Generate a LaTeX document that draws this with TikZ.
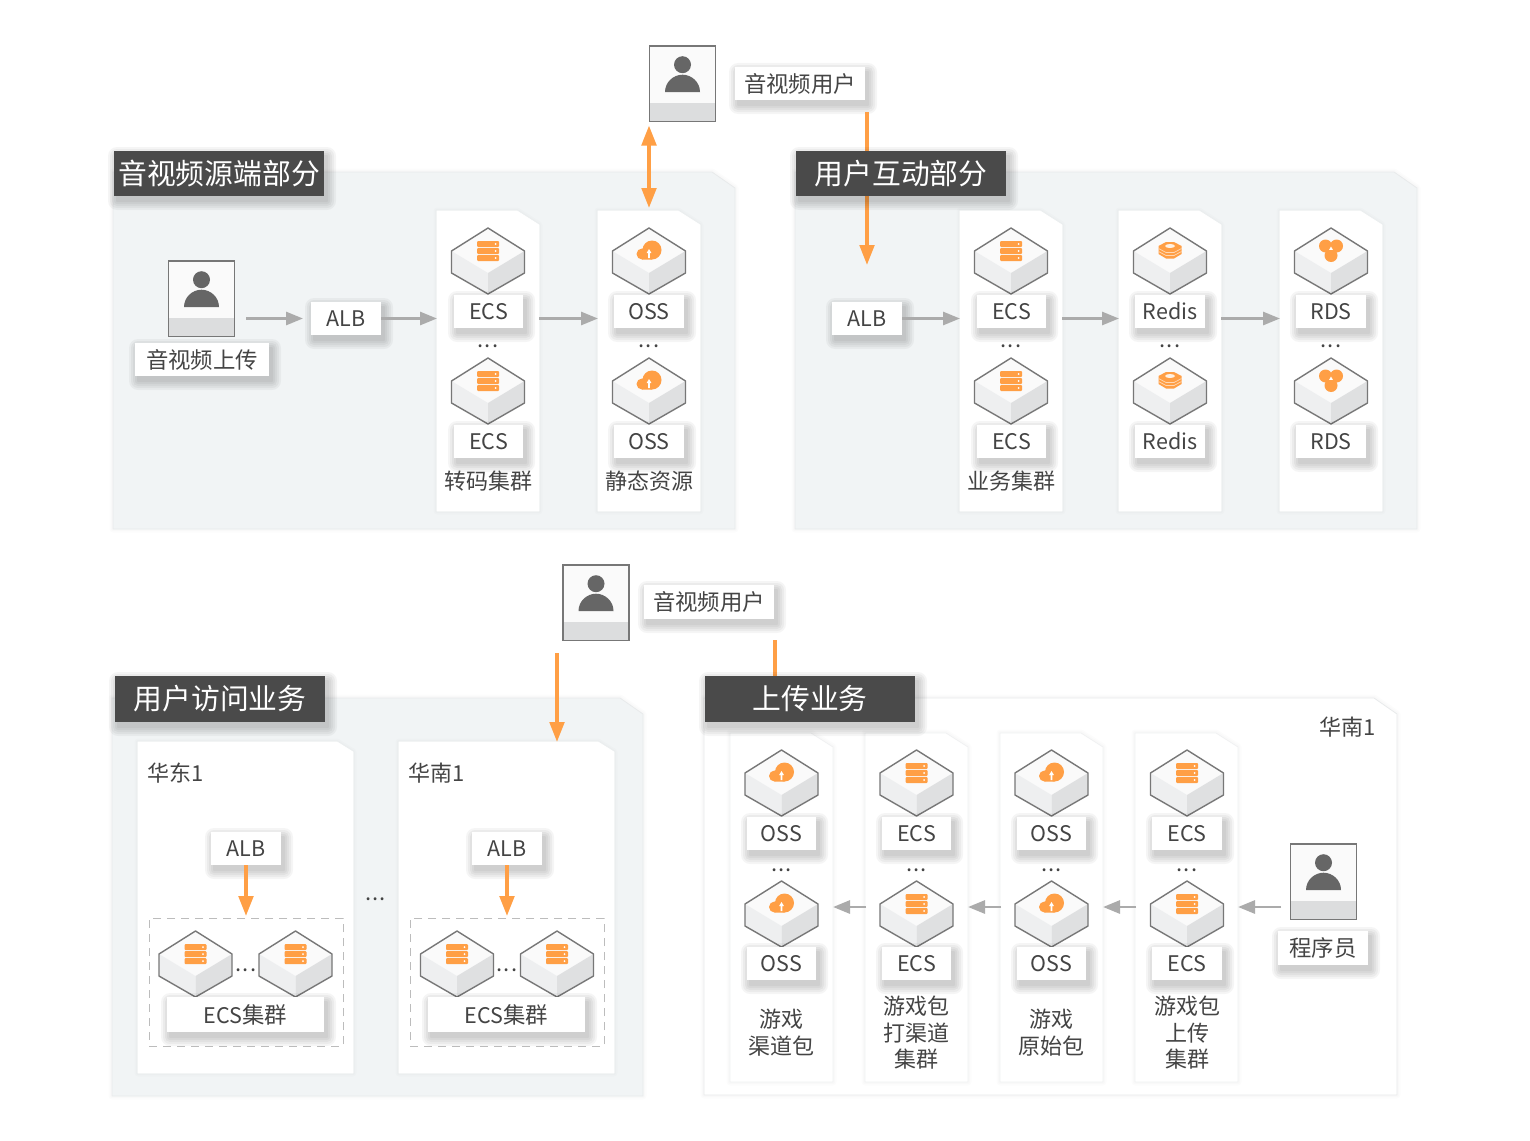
\documentclass[tikz,border=0pt]{standalone}
\usepackage{fontspec}
\setmainfont{Noto Sans CJK SC}
\usetikzlibrary{arrows.meta,calc}
\definecolor{txt}{HTML}{444444}
\definecolor{org}{HTML}{FF9F45}
\definecolor{gry}{HTML}{ABABAB}
\definecolor{pan}{HTML}{F1F4F5}
\definecolor{pedge}{HTML}{E8EAEB}
\definecolor{cedge}{HTML}{F0F1F2}
\definecolor{dark}{HTML}{4A4A4A}
\definecolor{edge}{HTML}{777777}
\definecolor{persn}{HTML}{666666}
\definecolor{band}{HTML}{DCDDDE}
\definecolor{faceL}{HTML}{EEEFF0}
\definecolor{faceR}{HTML}{DFE0E1}
\tikzset{
  x=1pt,y=-1pt,
  ga/.style={draw=gry,line width=2.8pt,-{Triangle[length=17pt,width=13pt]}},
  oa/.style={draw=org,line width=3.6pt,-{Triangle[length=20pt,width=14.5pt]}},
  oab/.style={draw=org,line width=3.6pt,{Triangle[length=20pt,width=14.5pt]}-{Triangle[length=20pt,width=14.5pt]}},
  ol/.style={draw=org,line width=3.6pt},
  boxn/.style={inner sep=0pt,outer sep=0pt},
  lab/.style={font=\fontsize{22}{26.5}\selectfont,text=txt,align=center,inner sep=0pt},
  ttl/.style={boxn,fill=dark,text=white,font=\fontsize{28.8}{30}\selectfont},
  lb/.style={boxn,fill=white,text=txt,font=\fontsize{21.5}{24}\selectfont},
}
\newcommand\zh{\fontsize{22.4}{24}\selectfont}
\newcommand\softshadow[6]{%
  \foreach \s in {9,7,5,3,1}{%
    \fill[black,opacity=.04,rounded corners=\s pt]
      ({#1+#5-\s},{#2+#6-\s}) rectangle ({#3+#5+\s},{#4+#6+\s});
  }}
\newcommand\lbl[6]{%
  \softshadow{#2}{#3}{#4}{#5}{3}{5}%
  \node[lb,minimum width={(#4-#2)*1pt},minimum height={(#5-#3)*1pt}] (#1) at ({(#2+#4)/2},{(#3+#5)/2}) {#6};}
\newcommand\ttlbox[6]{%
  \softshadow{#2}{#3}{#4}{#5}{3}{5}%
  \node[ttl,minimum width={(#4-#2)*1pt},minimum height={(#5-#3)*1pt}] (#1) at ({(#2+#4)/2},{(#3+#5)/2}) {\raisebox{1pt}{#6}};}
% name x1 y1 x2 y2 cutx cuty fill edge-colour
\newcommand\panelbox[9]{%
  \foreach \w in {7,4}{%
    \draw[black,opacity=.012,line width=\w pt,line join=round]
      (#2,#3) -- ({#4-#6},#3) -- (#4,{#3+#7}) -- (#4,#5) -- (#2,#5) -- cycle;}
  \filldraw[fill=#8,draw=#9,line width=.8pt,line join=round] (#2,#3) -- ({#4-#6},#3) -- (#4,{#3+#7}) -- (#4,#5) -- (#2,#5) -- cycle;
  \node[boxn,minimum width={(#4-#2)*1pt},minimum height={(#5-#3)*1pt}] (#1) at ({(#2+#4)/2},{(#3+#5)/2}) {};}
\newcommand\cubebase{%
  \fill[white!98!black] (0,0) -- (36.5,23) -- (0,45) -- (-36.5,23) -- cycle;
  \fill[faceL] (-36.5,23) -- (0,45) -- (0,66) -- (-36.5,45) -- cycle;
  \fill[faceR] (36.5,23) -- (0,45) -- (0,66) -- (36.5,45) -- cycle;
  \draw[edge,line width=1.4pt,line join=round] (0,0) -- (36.5,23) -- (36.5,45) -- (0,66) -- (-36.5,45) -- (-36.5,23) -- cycle;
}
\newcommand\iconecs{%
  \foreach \yy in {13,20,27}{%
    \fill[org,rounded corners=1pt] (-11,\yy) rectangle (11,{\yy+6});
    \fill[white] (7.5,{\yy+3}) circle (1pt);}}
\newcommand\iconoss{%
  \fill[org] (3,22) circle (9.5);
  \fill[org] (-7,26) circle (5.5);
  \fill[org] (-7,21) -- (3,15) -- (3,31.5) -- (-7,31.5) -- cycle;
  \fill[white] (0,21) -- (2.4,25) -- (0.9,25) -- (0.9,30) -- (-0.9,30) -- (-0.9,25) -- (-2.4,25) -- cycle;}
\newcommand\iconredis{%
  \fill[org] (-4,14) -- (4,14) -- (11.5,18) -- (11.5,26) -- (4,30.5) -- (-4,30.5) -- (-11.5,26) -- (-11.5,18) -- cycle;
  \draw[white!60!org,line width=.7pt] (-11.5,20.5) -- (-4,24.5) -- (4,24.5) -- (11.5,20.5);
  \draw[white!60!org,line width=.7pt] (-11.5,23.5) -- (-4,27.5) -- (4,27.5) -- (11.5,23.5);
  \fill[white!85!org] (0,18) ellipse (5 and 2);}
\newcommand\iconrds{%
  \fill[org] (-5.5,18) circle (6.5);
  \fill[org] (5.5,18) circle (6.5);
  \fill[org] (0,27.5) circle (6.5);
  \fill[org] (0,21) circle (5.5);
  \fill[white] (0,18.5) -- (1.9,21.8) -- (-1.9,21.8) -- cycle;}
\newcommand\cube[4]{%
  \begin{scope}[shift={(#2,#3)}]\cubebase #4\end{scope}
  \coordinate (#1) at (#2,{#3+33});}
\newcommand\usericon[3]{%
  \node[boxn,minimum width=66pt,minimum height=75.5pt] (#1) at ({#2+33},{#3+37.75}) {};
  \begin{scope}[shift={(#2,#3)}]
    \fill[white!98!black] (0,0) rectangle (66,75.5);
    \fill[band] (0,56.5) rectangle (66,75.5);
    \fill[persn] (33,18.7) circle (8.5);
    \fill[persn] (15.5,46) .. controls (15.5,36) and (24,28.7) .. (33,28.7) .. controls (42,28.7) and (50.5,36) .. (50.5,46) -- cycle;
    \draw[edge,line width=1.6pt] (0,0) rectangle (66,75.5);
  \end{scope}}
\newcommand\dotsn[3]{%
  \node[lab,anchor=base,font=\fontsize{22}{22}\selectfont] (#1) at (#2,#3) {.\kern1.2pt.\kern1.2pt.};}
\begin{document}
\begin{tikzpicture}
\useasboundingbox (0,0) rectangle (1530,1140);
\fill[white] (0,0) rectangle (1530,1140);

% large panels
\panelbox{pA}{113}{172}{735}{529}{23}{16}{pan}{pedge}
\panelbox{pB}{795}{172}{1417}{529}{23}{16}{pan}{pedge}
\panelbox{pC}{112}{698}{643}{1096}{23}{16}{pan}{pedge}
\panelbox{pD}{704}{698}{1397}{1095}{23}{16}{white}{pedge}

% columns
\panelbox{c1}{437}{211}{539}{511}{22}{14}{white}{white}
\panelbox{c2}{598}{211}{700}{511}{22}{14}{white}{white}
\panelbox{c3}{960}{211}{1062}{511}{22}{14}{white}{white}
\panelbox{c4}{1119}{211}{1221}{511}{22}{14}{white}{white}
\panelbox{c5}{1280}{211}{1382}{511}{22}{14}{white}{white}
\panelbox{s1}{138}{742}{353}{1073}{16}{10}{white}{white}
\panelbox{s2}{399}{742}{614}{1073}{16}{10}{white}{white}
\panelbox{d1}{730}{733}{833}{1082}{22}{14}{white}{cedge}
\panelbox{d2}{865}{733}{968}{1082}{22}{14}{white}{cedge}
\panelbox{d3}{1000}{733}{1103}{1082}{22}{14}{white}{cedge}
\panelbox{d4}{1135}{733}{1238}{1082}{22}{14}{white}{cedge}

% users
\usericon{uTop}{649.5}{46}
\usericon{uSrc}{168.5}{261}
\usericon{uAcc}{563}{565}
\usericon{uDev}{1290.5}{844}

% cubes
\cube{e1a}{488}{228}{\iconecs}
\cube{e1b}{488}{358}{\iconecs}
\cube{o1a}{649}{228}{\iconoss}
\cube{o1b}{649}{358}{\iconoss}
\cube{e2a}{1011}{228}{\iconecs}
\cube{e2b}{1011}{358}{\iconecs}
\cube{r1a}{1170}{228}{\iconredis}
\cube{r1b}{1170}{358}{\iconredis}
\cube{d1a}{1331}{228}{\iconrds}
\cube{d1b}{1331}{358}{\iconrds}
\cube{ua1}{195.5}{931}{\iconecs}
\cube{ua2}{295.5}{931}{\iconecs}
\cube{ub1}{457}{931}{\iconecs}
\cube{ub2}{557}{931}{\iconecs}
\cube{v1a}{781.5}{750}{\iconoss}
\cube{v1b}{781.5}{881}{\iconoss}
\cube{v2a}{916.5}{750}{\iconecs}
\cube{v2b}{916.5}{881}{\iconecs}
\cube{v3a}{1051.5}{750}{\iconoss}
\cube{v3b}{1051.5}{881}{\iconoss}
\cube{v4a}{1187}{750}{\iconecs}
\cube{v4b}{1187}{881}{\iconecs}

% dashed cluster boxes
\node[boxn,draw=gry!80,line width=1pt,dash pattern=on 8pt off 6pt,minimum width=194pt,minimum height=128pt] (dA) at (246,982) {};
\node[boxn,draw=gry!80,line width=1pt,dash pattern=on 8pt off 6pt,minimum width=194pt,minimum height=128pt] (dB) at (507,982) {};

% labels
\lbl{lTop}{735}{67}{865}{100}{\zh 音视频用户}
\lbl{lSrc}{135}{343}{269}{376}{\zh 音视频上传}
\lbl{alb1}{311}{302}{381}{335}{ALB}
\lbl{t1a}{454}{295}{523}{328}{ECS}
\lbl{t1b}{454}{425}{523}{458}{ECS}
\lbl{t2a}{614}{295}{684}{328}{OSS}
\lbl{t2b}{614}{425}{684}{458}{OSS}
\lbl{alb2}{832}{302}{902}{335}{ALB}
\lbl{t3a}{977}{295}{1046}{328}{ECS}
\lbl{t3b}{977}{425}{1046}{458}{ECS}
\lbl{t4a}{1135}{295}{1205}{328}{Redis}
\lbl{t4b}{1135}{425}{1205}{458}{Redis}
\lbl{t5a}{1296}{295}{1366}{328}{RDS}
\lbl{t5b}{1296}{425}{1366}{458}{RDS}
\lbl{lAcc}{644}{585}{774}{619}{\zh 音视频用户}
\lbl{alb3}{211}{832}{281}{865}{ALB}
\lbl{alb4}{472}{832}{542}{865}{ALB}
\lbl{cA}{167}{997}{324}{1032}{ECS{\zh 集群}}
\lbl{cB}{428}{997}{585}{1032}{ECS{\zh 集群}}
\lbl{w1a}{747}{817}{816}{850}{OSS}
\lbl{w1b}{747}{947}{816}{980}{OSS}
\lbl{w2a}{882}{817}{951}{850}{ECS}
\lbl{w2b}{882}{947}{951}{980}{ECS}
\lbl{w3a}{1017}{817}{1086}{850}{OSS}
\lbl{w3b}{1017}{947}{1086}{980}{OSS}
\lbl{w4a}{1152}{817}{1222}{850}{ECS}
\lbl{w4b}{1152}{947}{1222}{980}{ECS}
\lbl{lDev}{1278}{931}{1368}{965}{\zh 程序员}

% free text
\node[lab] (n1) at (488,481) {转码集群};
\node[lab] (n2) at (649,481) {静态资源};
\node[lab] (n3) at (1011,481) {业务集群};
\node[lab] (n4) at (176,773) {华东1};
\node[lab] (n5) at (437,773) {华南1};
\node[lab] (n6) at (1348,727) {华南1};
\node[lab] (n7) at (781.5,1032.5) {游戏\\渠道包};
\node[lab] (n8) at (916.5,1033) {游戏包\\打渠道\\集群};
\node[lab] (n9) at (1051.5,1032.5) {游戏\\原始包};
\node[lab] (n10) at (1187,1033) {游戏包\\上传\\集群};

\dotsn{k1}{488}{347}
\dotsn{k2}{649}{347}
\dotsn{k3}{1011}{347}
\dotsn{k4}{1170}{347}
\dotsn{k5}{1331}{347}
\dotsn{k6}{375.5}{900}
\dotsn{k7}{246}{971}
\dotsn{k8}{507}{971}
\dotsn{k9}{781.5}{871}
\dotsn{k10}{916.5}{871}
\dotsn{k11}{1051.5}{871}
\dotsn{k12}{1187}{871}

% connectors
\coordinate (gSrc) at (246,318.5);
\coordinate (gDev) at (1281,907);
\coordinate (fAcc) at (557,653);
\coordinate (fUp) at (775,640);
\draw[ga,shorten >=8pt] (gSrc) -- (alb1.west);
\draw[ga] (alb1.east) -- (c1.west |- alb1.east);
\draw[ga] (c1.east |- alb1.east) -- (c2.west |- alb1.east);
\draw[ga] (alb2.east) -- (c3.west |- alb2.east);
\draw[ga] (c3.east |- alb2.east) -- (c4.west |- alb2.east);
\draw[ga] (c4.east |- alb2.east) -- (c5.west |- alb2.east);
\draw[ga] (gDev) -- (d4.east |- gDev);
\draw[ga,shorten <=-1pt] (d4.west |- gDev) -- (d3.east |- gDev);
\draw[ga,shorten <=-1pt] (d3.west |- gDev) -- (d2.east |- gDev);
\draw[ga,shorten <=-1pt] (d2.west |- gDev) -- (d1.east |- gDev);
\draw[oab,shorten <=4pt,shorten >=3pt] (c2.north |- uTop.south) -- (c2.north);
\draw[oa,shorten <=12pt,shorten >=37pt] (alb2.north |- lTop.south) -- (alb2.north);
\draw[oa] (fAcc) -- (fAcc |- s2.north);
\draw[oa,shorten >=2pt] (alb3.south) -- (dA.north);
\draw[oa,shorten >=2pt] (alb4.south) -- (dB.north);

% titles above the lines that pass behind them
\draw[ol] (fUp) -- ++(0,40);
\ttlbox{tA}{114}{151}{324}{196}{音视频源端部分}
\ttlbox{tB}{796}{151}{1006}{196}{用户互动部分}
\ttlbox{tC}{115}{676}{325}{722}{用户访问业务}
\ttlbox{tD}{705}{676}{915}{722}{上传业务}
\end{tikzpicture}
\end{document}
